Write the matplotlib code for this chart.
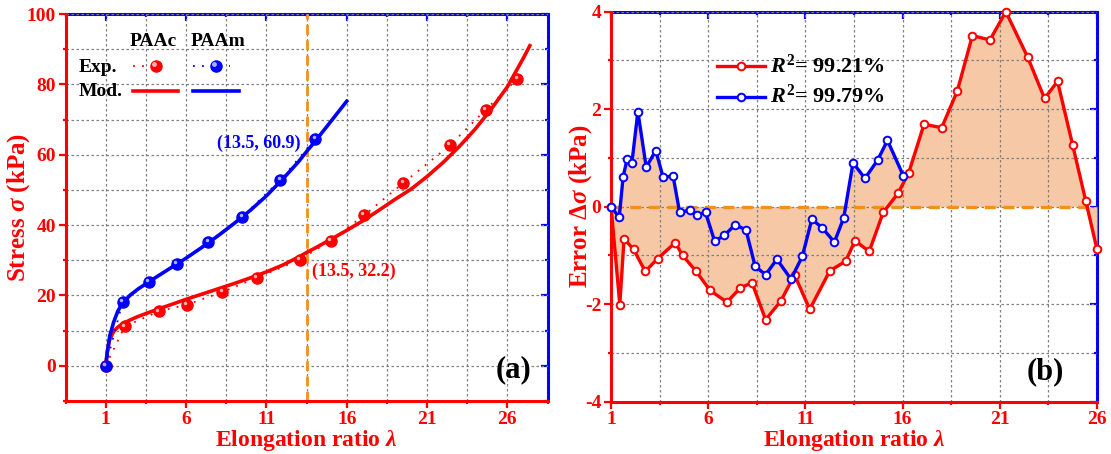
import matplotlib
matplotlib.use('Agg')
import matplotlib.pyplot as plt
import matplotlib.transforms as mtransforms
from matplotlib.ticker import MultipleLocator

plt.rcParams['font.family'] = ['Liberation Serif', 'DejaVu Serif']
plt.rcParams['font.weight'] = 'bold'
plt.rcParams['axes.labelweight'] = 'bold'
plt.rcParams['mathtext.fontset'] = 'custom'
plt.rcParams['mathtext.rm'] = 'Liberation Serif:bold'
plt.rcParams['mathtext.it'] = 'Liberation Serif:italic:bold'
plt.rcParams['mathtext.bf'] = 'Liberation Serif:bold'
plt.rcParams['axes.unicode_minus'] = False

# (a) experimental points
paac_lam = [1, 2.18, 4.32, 6.06, 8.26, 10.4, 13.07, 15.0, 17.08, 19.53, 22.43, 24.65, 26.63]
paac_exp = [0, 11.2, 15.5, 17.4, 21.0, 25.0, 30.1, 35.6, 42.8, 52.0, 62.7, 72.8, 81.6]
paam_lam = [1, 2.05, 3.67, 5.43, 7.39, 9.51, 11.87, 14.05]
paam_exp = [0, 18.1, 23.9, 28.9, 35.2, 42.4, 52.8, 64.5]

# (a) model curves
paac_mod_lam = [1, 1.1, 1.25, 1.5, 1.75, 2, 2.5, 3, 4, 5, 6, 7, 8, 9, 10, 11, 12, 13, 13.5,
                14, 15, 16, 17, 18, 19, 20, 21, 22, 23, 24, 25, 26, 27, 27.4]
paac_mod = [0, 4, 7.5, 9.8, 11, 11.8, 13, 14, 15.7, 17.3, 18.9, 20.4, 21.9, 23.4, 25, 26.7,
            28.6, 30.9, 32.2, 33.4, 35.9, 38.5, 41.2, 44.2, 47.3, 50.2, 53.8, 57.8, 62.3,
            67.3, 73, 79.3, 87.5, 91]
paam_mod_lam = [1, 1.1, 1.25, 1.5, 1.75, 2, 2.5, 3, 4, 5, 6, 7, 8, 9, 10, 11, 12, 13, 13.5,
                14, 15, 16]
paam_mod = [0, 4, 8.5, 12.5, 15.5, 17.5, 20, 21.8, 24.8, 27.7, 30.6, 33.7, 37, 40.5, 44.2,
            48.3, 53, 58, 60.9, 63.6, 69.4, 75.2]

# (b) residuals
err_lam_c = [1, 1.45, 1.67, 2.16, 2.76, 3.39, 4.30, 4.68, 5.38, 6.09, 6.96, 7.65, 8.25, 8.95,
             9.73, 10.44, 11.22, 12.25, 13.07, 13.55, 14.28, 15.0, 15.76, 16.31, 17.1, 18.01,
             18.81, 19.59, 20.49, 21.31, 22.43, 23.3, 23.97, 24.75, 25.42, 26.0]
err_c = [0, -2.01, -0.66, -0.88, -1.33, -1.07, -0.74, -1.0, -1.33, -1.72, -1.96, -1.67, -1.56,
         -2.32, -1.94, -1.40, -2.11, -1.32, -1.12, -0.70, -0.92, -0.12, 0.27, 0.69, 1.69, 1.62,
         2.37, 3.51, 3.42, 4.0, 3.07, 2.22, 2.57, 1.26, 0.12, -0.88]
err_lam_m = [1, 1.42, 1.62, 1.83, 2.07, 2.38, 2.81, 3.30, 3.68, 4.19, 4.53, 5.08, 5.42, 5.86,
             6.33, 6.83, 7.39, 7.94, 8.41, 8.95, 9.53, 10.26, 10.84, 11.33, 11.85, 12.49, 12.97,
             13.45, 14.06, 14.71, 15.22, 16.04]
err_m = [0, -0.22, 0.61, 0.98, 0.89, 1.95, 0.81, 1.15, 0.60, 0.63, -0.12, -0.07, -0.17, -0.12,
         -0.71, -0.59, -0.37, -0.48, -1.22, -1.40, -1.08, -1.49, -1.02, -0.26, -0.43, -0.73,
         -0.23, 0.90, 0.58, 0.95, 1.36, 0.63]

RED = '#FF0000'
BLUE = '#0000FF'
ORANGE = '#F39019'
FILL = '#F6C8A5'

fig = plt.figure(figsize=(11.11, 4.54), dpi=100)
ax1 = fig.add_axes([0.059, 0.1167, 0.4338, 0.8524])
ax2 = fig.add_axes([0.550, 0.1156, 0.4374, 0.8586])


def style_axes(ax, ymaj, ymin):
    # x ticks at 1, 6, 11, ... with minors halfway
    ax.xaxis.set_major_locator(MultipleLocator(5, offset=1))
    ax.xaxis.set_minor_locator(MultipleLocator(2.5, offset=1))
    ax.yaxis.set_major_locator(MultipleLocator(ymaj))
    ax.yaxis.set_minor_locator(MultipleLocator(ymin))
    ax.grid(True, which='both', color='#808080', lw=0.9, ls=(0, (2, 2)))
    ax.set_axisbelow('line')
    ax.spines['left'].set_color(RED)
    ax.spines['bottom'].set_color(RED)
    ax.spines['top'].set_visible(False)
    ax.spines['right'].set_visible(False)
    for s in ('left', 'bottom'):
        ax.spines[s].set_linewidth(2.2)
    ax.tick_params(which='major', direction='out', length=5, width=1.6, color=RED,
                   labelcolor=RED, labelsize=14, pad=2)
    ax.tick_params(which='minor', direction='out', length=2.5, width=1.6, color=RED)
    sx = ax.secondary_xaxis('top')
    sy = ax.secondary_yaxis('right')
    for sa, sp in ((sx, 'top'), (sy, 'right')):
        sa.spines[sp].set_color(BLUE)
        sa.spines[sp].set_linewidth(2.2)
        sa.tick_params(which='major', direction='in', length=5, width=1.6, color=BLUE,
                       labelbottom=False, labeltop=False, labelleft=False, labelright=False)
        sa.tick_params(which='minor', direction='in', length=2.5, width=1.6, color=BLUE)
    sx.xaxis.set_major_locator(MultipleLocator(5, offset=1))
    sx.xaxis.set_minor_locator(MultipleLocator(2.5, offset=1))
    sy.yaxis.set_major_locator(MultipleLocator(ymaj))
    sy.yaxis.set_minor_locator(MultipleLocator(ymin))


# ---------------- (a) ----------------
ax1.set_xlim(-1.5, 28.5)
ax1.set_ylim(-10, 100)
style_axes(ax1, 20, 10)

hl = mtransforms.ScaledTranslation(-1.3 / 72, 1.3 / 72, fig.dpi_scale_trans)

ax1.axvline(13.5, color=ORANGE, lw=2, dashes=(3.5, 2), zorder=2)
ax1.plot(paac_mod_lam, paac_mod, color=RED, lw=2.6, zorder=3)
ax1.plot(paam_mod_lam, paam_mod, color=BLUE, lw=2.6, zorder=3)
for lam, val, c, hc in ((paac_lam, paac_exp, RED, '#FFB0B0'), (paam_lam, paam_exp, BLUE, '#B0B0FF')):
    ax1.plot(lam, val, color=c, lw=1.3, ls=(0, (1, 4)), marker='o', ms=8,
             mfc=c, mec=c, zorder=4, clip_on=False)
    ax1.plot(lam, val, ls='none', marker='o', ms=2.5, mfc=hc, mec='none',
             transform=ax1.transData + hl, zorder=5, clip_on=False)

ax1.text(13.14, 63.3, '(13.5, 60.9)', color=BLUE, fontsize=13, ha='right', va='center')
ax1.text(13.83, 27.0, '(13.5, 32.2)', color=RED, fontsize=13, ha='left', va='center')
ax1.text(26.38, -1.2, '(a)', color='black', fontsize=22, ha='center', va='center')

# custom legend table
T = ax1.transAxes
ax1.text(0.183, 0.928, 'PAAc', transform=T, fontsize=14, ha='center', va='center')
ax1.text(0.3164, 0.928, 'PAAm', transform=T, fontsize=14, ha='center', va='center')
ax1.text(0.0266, 0.862, 'Exp.', transform=T, fontsize=14, ha='left', va='center')
ax1.text(0.0266, 0.801, 'Mod.', transform=T, fontsize=14, ha='left', va='center')
ax1.plot([0.140, 0.2147], [0.866, 0.866], transform=T, color=RED, lw=1.3, ls=(0, (1, 4)))
ax1.plot([0.187], [0.866], transform=T, marker='o', ms=8, color=RED)
ax1.plot([0.187], [0.866], transform=T + hl, marker='o', ms=2.5, color='#FFB0B0')
ax1.plot([0.2645, 0.3413], [0.866, 0.866], transform=T, color=BLUE, lw=1.3, ls=(0, (1, 4)))
ax1.plot([0.3116], [0.866], transform=T, marker='o', ms=8, color=BLUE)
ax1.plot([0.3116], [0.866], transform=T + hl, marker='o', ms=2.5, color='#B0B0FF')
ax1.plot([0.1407, 0.234], [0.801, 0.801], transform=T, color=RED, lw=2.6)
ax1.plot([0.2651, 0.36], [0.801, 0.801], transform=T, color=BLUE, lw=2.6)

ax1.set_xlabel('Elongation ratio $\\mathit{\\lambda}$', color=RED, fontsize=17, va='top')
ax1.xaxis.set_label_coords(0.5, -0.070)
ax1.set_ylabel('Stress $\\mathit{\\sigma}$ (kPa)', color=RED, fontsize=18)
ax1.yaxis.set_label_coords(-0.07, 0.5)

# ---------------- (b) ----------------
ax2.set_xlim(1, 26)
ax2.set_ylim(-4, 4)
style_axes(ax2, 2, 1)

ax2.fill_between(err_lam_c, err_c, 0, color=FILL, lw=0, zorder=0.5)
ax2.fill_between(err_lam_m, err_m, 0, color=FILL, lw=0, zorder=0.5)
ax2.axhline(0, color=ORANGE, lw=2.4, dashes=(3.3, 2.3), zorder=1.8)
ax2.plot(err_lam_c, err_c, color=RED, lw=2.4, marker='o', ms=5.5, mfc='white', mec=RED,
         mew=1.4, zorder=3, clip_on=False)
ax2.plot(err_lam_m, err_m, color=BLUE, lw=2.4, marker='o', ms=5.5, mfc='white', mec=BLUE,
         mew=1.4, zorder=3, clip_on=False)

T2 = ax2.transAxes
for yy, c, lab in ((0.861, RED, '$\\mathit{R}^{2}$= 99.21%'), (0.782, BLUE, '$\\mathit{R}^{2}$= 99.79%')):
    ax2.plot([0.2175, 0.317], [yy, yy], transform=T2, color=c, lw=2.4)
    ax2.plot([0.2675], [yy], transform=T2, marker='o', ms=5.5, mfc='white', mec=c, mew=1.4)
    ax2.text(0.3276, yy, lab, transform=T2, fontsize=16, ha='left', va='center')

ax2.text(23.33, -3.39, '(b)', color='black', fontsize=22, ha='center', va='center')

ax2.set_xlabel('Elongation ratio $\\mathit{\\lambda}$', color=RED, fontsize=17, va='top')
ax2.xaxis.set_label_coords(0.5, -0.068)
ax2.set_ylabel('Error \u0394$\\mathit{\\sigma}$ (kPa)', color=RED, fontsize=18)
ax2.yaxis.set_label_coords(-0.036, 0.5)

fig.savefig('out.png', dpi=100)
